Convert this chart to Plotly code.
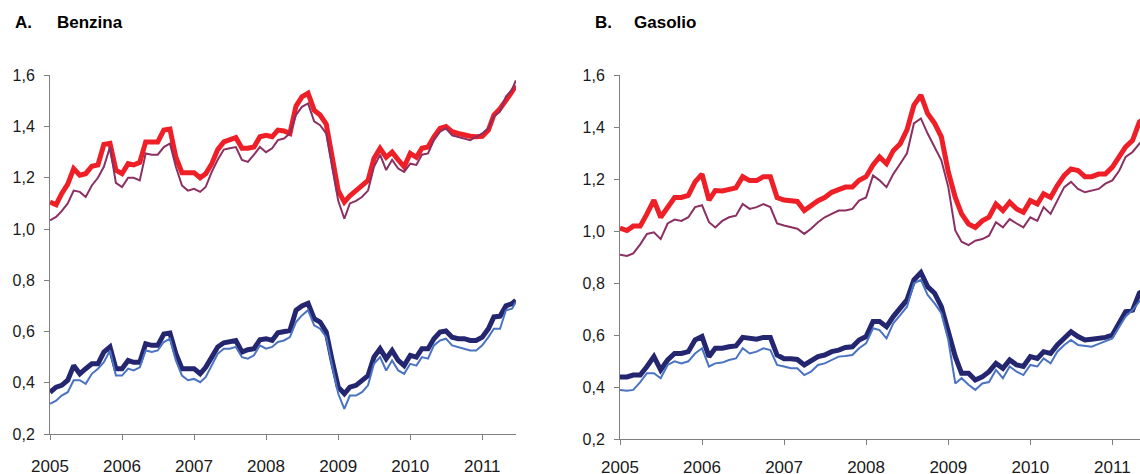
import pandas as pd
import plotly.graph_objects as go

# ---- data (monthly readings, 1st of month; left panel adds a final late-June point) ----
dates_month = pd.date_range("2005-01-01", periods=78, freq="MS")
benz_dates = list(dates_month) + [pd.Timestamp("2011-06-20")]
gas_dates = list(dates_month)

benz_red = [1.105, 1.095, 1.138, 1.175, 1.236, 1.21, 1.216, 1.245, 1.25, 1.33,
            1.334, 1.23, 1.216, 1.255, 1.25, 1.26, 1.34, 1.34, 1.34, 1.386,
            1.39, 1.28, 1.22, 1.22, 1.22, 1.20, 1.216, 1.255, 1.31, 1.34,
            1.35, 1.357, 1.315, 1.315, 1.32, 1.36, 1.366, 1.36, 1.386, 1.383,
            1.373, 1.48, 1.516, 1.53, 1.464, 1.445, 1.41, 1.27, 1.15, 1.105,
            1.13, 1.15, 1.17, 1.19, 1.275, 1.315, 1.28, 1.30, 1.27, 1.243,
            1.295, 1.28, 1.315, 1.32, 1.36, 1.393, 1.40, 1.38, 1.373, 1.366,
            1.362, 1.36, 1.362, 1.386, 1.445, 1.47, 1.50, 1.536, 1.56]
benz_purple = [1.034, 1.047, 1.07, 1.10, 1.15, 1.145, 1.125, 1.17, 1.20, 1.243,
               1.32, 1.18, 1.164, 1.20, 1.20, 1.19, 1.295, 1.29, 1.29, 1.32,
               1.334, 1.243, 1.17, 1.15, 1.157, 1.145, 1.164, 1.223, 1.27, 1.31,
               1.315, 1.32, 1.27, 1.262, 1.29, 1.32, 1.30, 1.315, 1.347, 1.353,
               1.373, 1.445, 1.477, 1.49, 1.42, 1.405, 1.373, 1.243, 1.11, 1.04,
               1.10, 1.11, 1.125, 1.15, 1.243, 1.29, 1.23, 1.27, 1.236, 1.223,
               1.255, 1.25, 1.29, 1.295, 1.347, 1.38, 1.393, 1.366, 1.36, 1.353,
               1.347, 1.36, 1.373, 1.393, 1.44, 1.458, 1.517, 1.543, 1.58]
benz_navy = [0.363, 0.383, 0.39, 0.41, 0.467, 0.435, 0.455, 0.474, 0.474, 0.52,
             0.54, 0.455, 0.455, 0.487, 0.48, 0.48, 0.552, 0.546, 0.546, 0.59,
             0.594, 0.513, 0.455, 0.455, 0.455, 0.435, 0.46, 0.50, 0.54, 0.556,
             0.559, 0.565, 0.52, 0.529, 0.533, 0.568, 0.572, 0.565, 0.595, 0.598,
             0.604, 0.683, 0.70, 0.71, 0.65, 0.637, 0.598, 0.487, 0.383, 0.357,
             0.383, 0.39, 0.41, 0.428, 0.50, 0.533, 0.494, 0.526, 0.487, 0.467,
             0.507, 0.50, 0.533, 0.533, 0.572, 0.598, 0.602, 0.578, 0.572, 0.572,
             0.565, 0.565, 0.578, 0.611, 0.657, 0.66, 0.70, 0.709, 0.722]
benz_blue = [0.318, 0.33, 0.35, 0.363, 0.41, 0.41, 0.396, 0.435, 0.455, 0.48,
             0.526, 0.428, 0.428, 0.455, 0.448, 0.46, 0.526, 0.52, 0.526, 0.559,
             0.572, 0.487, 0.428, 0.41, 0.415, 0.402, 0.422, 0.467, 0.513, 0.533,
             0.533, 0.54, 0.50, 0.494, 0.507, 0.546, 0.533, 0.54, 0.559, 0.565,
             0.578, 0.637, 0.663, 0.683, 0.624, 0.611, 0.578, 0.467, 0.357, 0.298,
             0.35, 0.35, 0.363, 0.39, 0.474, 0.50, 0.448, 0.487, 0.448, 0.435,
             0.474, 0.467, 0.50, 0.494, 0.546, 0.565, 0.572, 0.546, 0.54, 0.533,
             0.526, 0.526, 0.546, 0.578, 0.611, 0.611, 0.683, 0.689, 0.715]

gas_red = [1.012, 1.003, 1.02, 1.02, 1.067, 1.12, 1.054, 1.093, 1.13, 1.13,
           1.138, 1.19, 1.22, 1.12, 1.157, 1.155, 1.163, 1.167, 1.21, 1.195,
           1.195, 1.21, 1.21, 1.13, 1.12, 1.116, 1.115, 1.08, 1.10, 1.118,
           1.13, 1.15, 1.16, 1.17, 1.17, 1.196, 1.21, 1.255, 1.286, 1.26,
           1.31, 1.337, 1.39, 1.485, 1.524, 1.453, 1.415, 1.363, 1.228, 1.13,
           1.067, 1.028, 1.015, 1.04, 1.054, 1.105, 1.08, 1.112, 1.086, 1.073,
           1.118, 1.105, 1.144, 1.13, 1.176, 1.215, 1.24, 1.234, 1.21, 1.21,
           1.22, 1.22, 1.247, 1.286, 1.325, 1.35, 1.42, 1.44]
gas_purple = [0.91, 0.905, 0.915, 0.95, 0.99, 0.996, 0.97, 1.03, 1.045, 1.04,
              1.054, 1.093, 1.10, 1.035, 1.015, 1.04, 1.054, 1.06, 1.105, 1.086,
              1.093, 1.105, 1.093, 1.03, 1.022, 1.015, 1.01, 0.99, 1.01, 1.035,
              1.054, 1.067, 1.08, 1.08, 1.086, 1.118, 1.13, 1.215, 1.196, 1.17,
              1.22, 1.26, 1.30, 1.415, 1.434, 1.376, 1.324, 1.273, 1.17, 1.003,
              0.96, 0.947, 0.964, 0.97, 0.983, 1.035, 1.015, 1.047, 1.03, 1.015,
              1.054, 1.04, 1.093, 1.067, 1.118, 1.17, 1.19, 1.163, 1.15, 1.157,
              1.163, 1.183, 1.196, 1.234, 1.286, 1.305, 1.337, 1.36]
gas_navy = [0.44, 0.44, 0.447, 0.447, 0.48, 0.518, 0.467, 0.505, 0.53, 0.53,
            0.537, 0.582, 0.595, 0.518, 0.55, 0.55, 0.556, 0.559, 0.592, 0.588,
            0.585, 0.592, 0.592, 0.524, 0.51, 0.51, 0.507, 0.486, 0.50, 0.518,
            0.524, 0.537, 0.543, 0.553, 0.556, 0.582, 0.595, 0.653, 0.653, 0.633,
            0.672, 0.704, 0.736, 0.813, 0.841, 0.787, 0.762, 0.71, 0.608, 0.518,
            0.454, 0.454, 0.428, 0.44, 0.46, 0.492, 0.473, 0.505, 0.486, 0.48,
            0.518, 0.511, 0.537, 0.53, 0.563, 0.588, 0.614, 0.595, 0.582, 0.585,
            0.588, 0.592, 0.601, 0.646, 0.691, 0.697, 0.762, 0.78]
gas_blue = [0.39, 0.387, 0.39, 0.42, 0.454, 0.454, 0.435, 0.486, 0.50, 0.492,
            0.50, 0.53, 0.55, 0.48, 0.492, 0.495, 0.505, 0.511, 0.55, 0.53,
            0.537, 0.55, 0.543, 0.486, 0.48, 0.473, 0.473, 0.447, 0.46, 0.486,
            0.492, 0.505, 0.518, 0.52, 0.524, 0.55, 0.569, 0.627, 0.62, 0.588,
            0.646, 0.678, 0.71, 0.80, 0.813, 0.755, 0.723, 0.685, 0.582, 0.415,
            0.435, 0.41, 0.39, 0.415, 0.42, 0.467, 0.435, 0.48, 0.46, 0.447,
            0.486, 0.48, 0.511, 0.492, 0.537, 0.563, 0.582, 0.563, 0.559, 0.556,
            0.567, 0.576, 0.588, 0.633, 0.672, 0.697, 0.73, 0.75]

year_ticks = ["2005", "2006", "2007", "2008", "2009", "2010", "2011"]
y_ticks = [0.2, 0.4, 0.6, 0.8, 1.0, 1.2, 1.4, 1.6]

RED = "#EE1F26"
PURPLE = "#8C2F62"
NAVY = "#242670"
LBLUE = "#4A73C2"
FONT = "Liberation Sans, Arial, sans-serif"
W, H = 1140, 474

fig = go.Figure()

def add(x, y, color, width, xa, ya):
    fig.add_trace(go.Scatter(x=x, y=y, mode="lines", line=dict(color=color, width=width),
                             xaxis=xa, yaxis=ya, showlegend=False, hoverinfo="skip"))

add(benz_dates, benz_red, RED, 5, "x", "y")
add(benz_dates, benz_purple, PURPLE, 2, "x", "y")
add(benz_dates, benz_navy, NAVY, 5, "x", "y")
add(benz_dates, benz_blue, LBLUE, 2, "x", "y")
add(gas_dates, gas_red, RED, 5, "x2", "y2")
add(gas_dates, gas_purple, PURPLE, 2, "x2", "y2")
add(gas_dates, gas_navy, NAVY, 5, "x2", "y2")
add(gas_dates, gas_blue, LBLUE, 2, "x2", "y2")

tickvals_x = [pd.Timestamp(f"{t}-01-01") for t in year_ticks]

def xaxis(domain, rng, anchor, standoff):
    return dict(domain=domain, range=rng, anchor=anchor, type="date",
                tickvals=tickvals_x, ticktext=year_ticks, automargin=False,
                showline=True, linecolor="#7f7f7f", linewidth=1,
                ticks="outside", ticklen=5, tickcolor="#7f7f7f",
                showgrid=False, zeroline=False,
                tickfont=dict(family=FONT, size=17, color="#1a1a1a"),
                ticklabelstandoff=standoff, fixedrange=True)

def yaxis(domain, anchor):
    return dict(domain=domain, range=[0.2, 1.6], anchor=anchor,
                tickvals=y_ticks, tickformat=".1f", automargin=False,
                showline=True, linecolor="#7f7f7f", linewidth=1,
                ticks="outside", ticklen=5, tickcolor="#7f7f7f",
                showgrid=False, zeroline=False,
                tickfont=dict(family=FONT, size=16, color="#1a1a1a"),
                ticklabelstandoff=6, fixedrange=True)

fig.update_layout(
    template="none",
    width=W, height=H,
    margin=dict(l=0, r=0, t=0, b=0, pad=0, autoexpand=False),
    paper_bgcolor="white", plot_bgcolor="white",
    separators=",.",
    showlegend=False,
    xaxis=xaxis([50 / W, 516 / W], ["2005-01-01", "2011-06-21"], "y", 12),
    yaxis=yaxis([(H - 434) / H, (H - 75.3) / H], "x"),
    xaxis2=xaxis([620 / W, 1.0], ["2005-01-01", "2011-05-04"], "y2", 7),
    yaxis2=yaxis([(H - 439.3) / H, (H - 75.3) / H], "x2"),
)

def title(x, text):
    fig.add_annotation(x=x / W, y=(H - 22.5) / H, xref="paper", yref="paper",
                       xanchor="left", yanchor="middle", showarrow=False,
                       text=f"<b>{text}</b>",
                       font=dict(family=FONT, size=17, color="#000000"))

title(12.7, "A.")
title(55, "Benzina")
title(593, "B.")
title(631.7, "Gasolio")

fig.write_html("out.html", config={"displayModeBar": False},
               post_script="document.body.style.margin='0';document.body.style.overflow='hidden';")
